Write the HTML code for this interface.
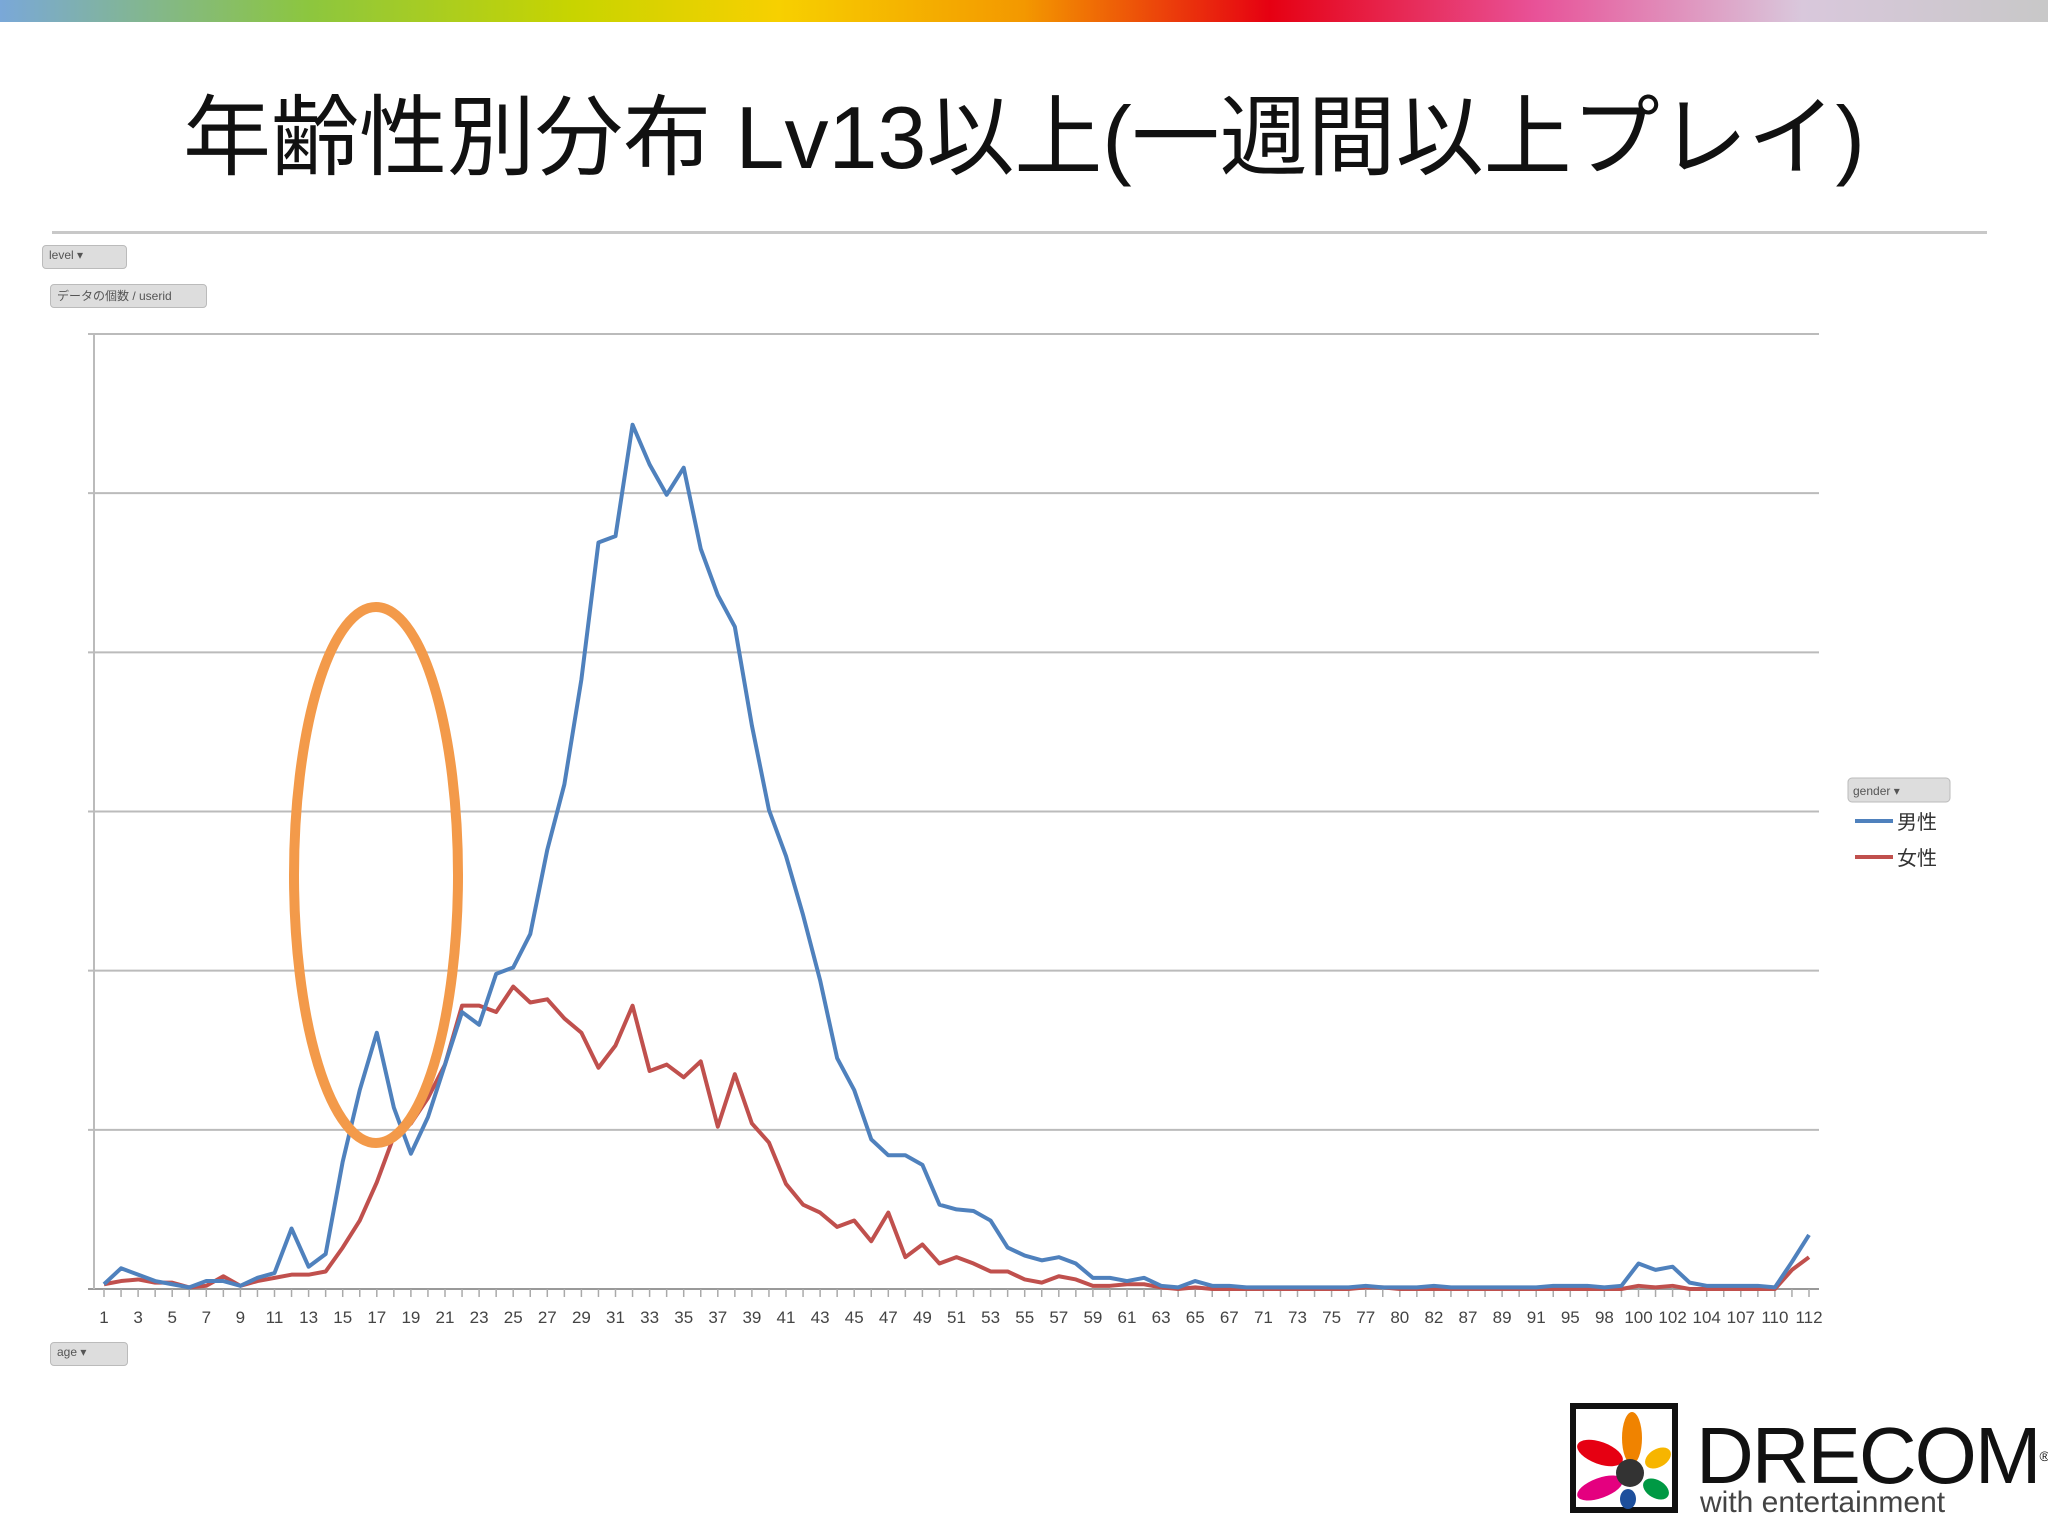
<!DOCTYPE html>
<html><head><meta charset="utf-8">
<style>
html,body{margin:0;padding:0;background:#fff;}
body{width:2048px;height:1536px;overflow:hidden;position:relative;font-family:"Liberation Sans","Noto Sans CJK JP",sans-serif;}
.btn{position:absolute;background:#ddd;border:1px solid #bbb;border-radius:4px;font-size:12px;color:#555;padding:2px 6px;box-sizing:border-box;}
</style></head>
<body>
<div style="position:absolute;left:0;top:0;width:2048px;height:22px;background:linear-gradient(90deg,#7aa8d8 0%,#8cc63f 15%,#c8d400 28%,#f7d000 38%,#f39800 50%,#e60012 62%,#e85298 75%,#d9c8dc 88%,#c8c8c8 100%);"></div>
<div style="position:absolute;left:0;top:86px;width:2048px;text-align:center;font-size:88px;color:#111;font-family:'Liberation Sans','Noto Sans CJK JP',sans-serif;line-height:104px;">年齢性別分布 Lv13以上(一週間以上プレイ)</div>
<div style="position:absolute;left:52px;top:231px;width:1935px;height:3px;background:#c8c8c8;"></div>
<div class="btn" style="left:42px;top:245px;width:85px;height:24px;">level ▾</div>
<div class="btn" style="left:50px;top:284px;width:157px;height:24px;">データの個数 / userid</div>
<div class="btn" style="left:50px;top:1342px;width:78px;height:24px;">age ▾</div>
<svg id="chart" width="2048" height="1536" style="position:absolute;left:0;top:0;">
<g id="grid"></g><g id="xaxis"></g><g id="lines"></g>
<ellipse cx="376" cy="875" rx="82" ry="268" fill="none" stroke="#f39a4a" stroke-width="10"/>
<g>
<rect x="1848" y="778" width="102" height="24" rx="4" fill="#ddd" stroke="#bbb"/>
<text x="1853" y="795" font-size="12" fill="#555">gender ▾</text>
<line x1="1855" y1="821" x2="1893" y2="821" stroke="#4f81bd" stroke-width="4"/>
<text x="1897" y="829" font-size="20" fill="#333" font-family="Liberation Sans,Noto Sans CJK JP,sans-serif">男性</text>
<line x1="1855" y1="857" x2="1893" y2="857" stroke="#c0504d" stroke-width="4"/>
<text x="1897" y="865" font-size="20" fill="#333" font-family="Liberation Sans,Noto Sans CJK JP,sans-serif">女性</text>
</g>
</svg>
<div style="position:absolute;left:1570px;top:1403px;width:108px;height:110px;">
<svg width="108" height="110">
<rect x="3" y="3" width="102" height="104" fill="#fff" stroke="#111" stroke-width="6"/>
<ellipse cx="62" cy="35" rx="10" ry="26" fill="#f08300"/>
<ellipse cx="30" cy="50" rx="24" ry="11" fill="#e60012" transform="rotate(20 30 50)"/>
<ellipse cx="88" cy="55" rx="14" ry="9" fill="#f7b500" transform="rotate(-30 88 55)"/>
<ellipse cx="30" cy="85" rx="24" ry="10" fill="#e4007f" transform="rotate(-20 30 85)"/>
<ellipse cx="86" cy="86" rx="14" ry="9" fill="#009944" transform="rotate(30 86 86)"/>
<ellipse cx="58" cy="96" rx="8" ry="10" fill="#1d4f9c"/>
<circle cx="60" cy="70" r="14" fill="#333"/>
</svg></div>
<div style="position:absolute;left:1696px;top:1416px;font-size:80px;color:#111;line-height:80px;letter-spacing:-2px;">DRECOM<span style="font-size:14px;vertical-align:top;">®</span></div>
<div style="position:absolute;left:1700px;top:1488px;font-size:30px;color:#444;line-height:30px;">with entertainment</div>
<script>
const labels=["1","3","5","7","9","11","13","15","17","19","21","23","25","27","29","31","33","35","37","39","41","43","45","47","49","51","53","55","57","59","61","63","65","67","71","73","75","77","80","82","87","89","91","95","98","100","102","104","107","110","112"];
const male=[3,13,9,5,3,1,5,5,2,7,10,38,14,22,80,125,161,114,85,108,141,174,166,198,202,223,276,317,383,469,473,543,518,499,516,465,436,416,354,301,272,235,194,145,125,94,84,84,78,53,50,49,43,26,21,18,20,16,7,7,5,7,2,1,5,2,2,1,1,1,1,1,1,1,2,1,1,1,2,1,1,1,1,1,1,2,2,2,1,2,16,12,14,4,2,2,2,2,1,17,34];
const female=[3,5,6,4,4,1,2,8,2,5,7,9,9,11,26,43,67,96,104,120,141,178,178,174,190,180,182,170,161,139,153,178,137,141,133,143,102,135,104,92,66,53,48,39,43,30,48,20,28,16,20,16,11,11,6,4,8,6,2,2,3,3,1,0,1,0,0,0,0,0,0,0,0,0,1,1,0,0,0,0,0,0,0,0,0,0,0,0,0,0,2,1,2,0,0,0,0,0,0,12,20];
const yTicks=[0,100,200,300,400,500,600];
const X0=104,X1=1809,Y0=1289,YTOP=334,YMAX=600,N=male.length;
const x=i=>X0+i*(X1-X0)/(N-1);
const y=v=>Y0-v*(Y0-YTOP)/YMAX;
const NS="http://www.w3.org/2000/svg";
function mk(t,a,p){const e=document.createElementNS(NS,t);for(const k in a)e.setAttribute(k,a[k]);p.appendChild(e);return e;}
const grid=document.getElementById('grid');
yTicks.forEach(v=>{const l=mk('line',{x1:88,x2:1819,y1:y(v),y2:y(v),stroke:v===0?'#999':'#bbb','stroke-width':2},grid);

});
const ax=mk('line',{x1:94,x2:94,y1:YTOP,y2:Y0,stroke:'#bbb','stroke-width':2},grid);


const xa=document.getElementById('xaxis');
for(let i=0;i<N;i++){const t=mk('line',{x1:x(i),x2:x(i),y1:Y0,y2:Y0+8,stroke:'#aaa','stroke-width':1.5},xa);

}
labels.forEach((s,k)=>{const t=mk('text',{x:x(2*k),y:Y0+34,'font-size':17,'text-anchor':'middle',fill:'#444'},xa);t.textContent=s;

});
function line(arr,col,name){const p=mk('polyline',{points:arr.map((v,i)=>x(i)+','+y(v)).join(' '),fill:'none',stroke:col,'stroke-width':4,'stroke-linejoin':'round'},document.getElementById('lines'));

}
line(female,'#c0504d','female-line');
line(male,'#4f81bd','male-line');
</script>
</body></html>
